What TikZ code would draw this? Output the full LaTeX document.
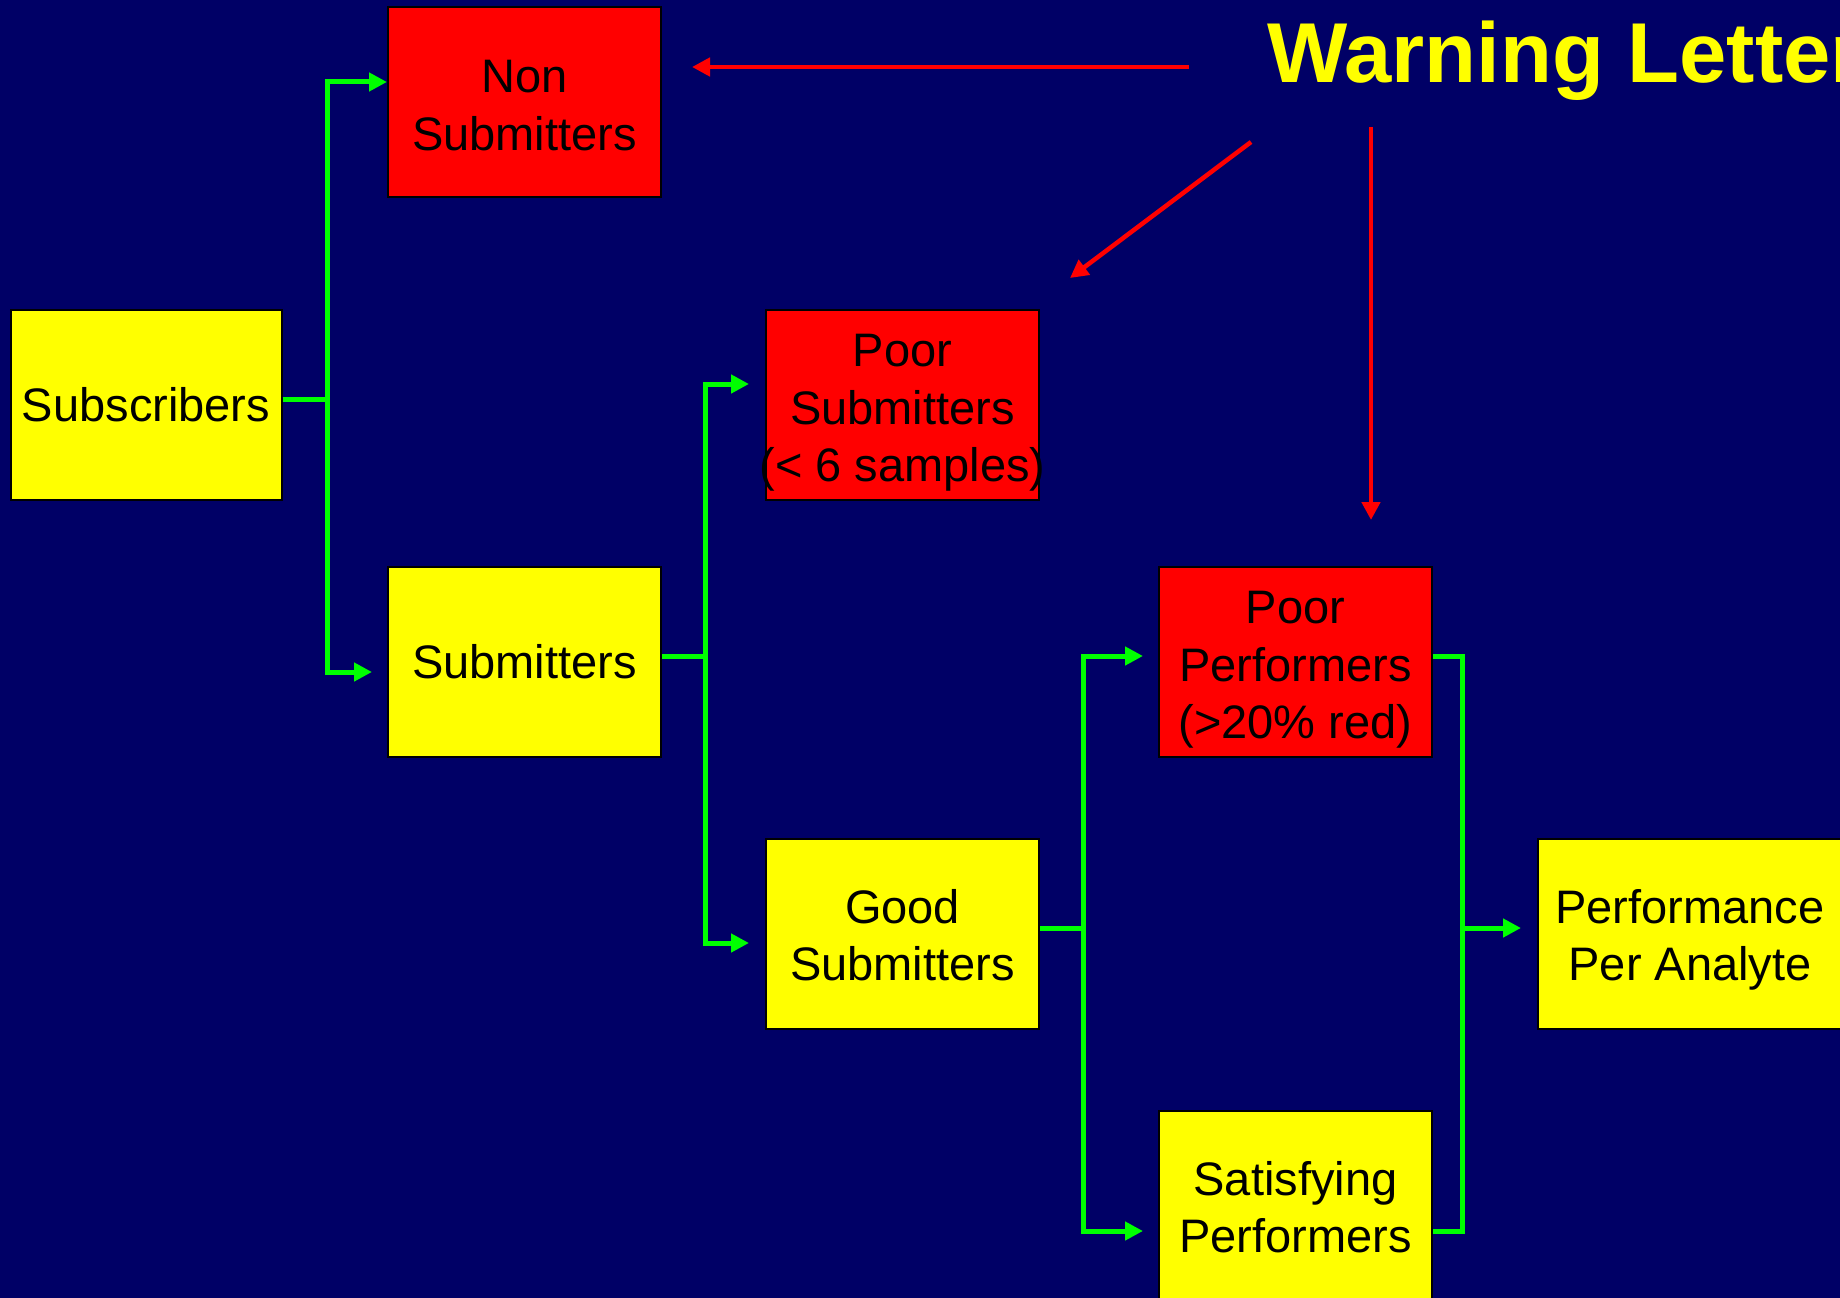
\documentclass[tikz,border=0pt]{standalone}
\usepackage{fontspec}
\setmainfont{Liberation Sans}
\usetikzlibrary{arrows.meta}
\definecolor{navybg}{RGB}{0,0,102}
\definecolor{boxyellow}{RGB}{255,255,0}
\definecolor{boxred}{RGB}{255,0,0}
\definecolor{linkgreen}{RGB}{0,255,0}
\definecolor{warnred}{RGB}{255,0,0}
\newcommand\toppad[1]{\rule{0pt}{#1}}
\tikzset{
  box/.style={draw=black, line width=2pt, minimum width=273pt, minimum height=190pt,
    inner sep=0pt, align=center, font=\fontsize{47}{57.5}\selectfont, text=black},
  ybox/.style={box, fill=boxyellow},
  rbox/.style={box, fill=boxred},
  glink/.style={draw=linkgreen, line width=5pt, line join=miter},
  garrow/.style={glink, -{Triangle[length=18pt,width=18pt]}},
  garrows/.style={glink, {Triangle[length=18pt,width=18pt]}-{Triangle[length=18pt,width=18pt]}},
  rarrow/.style={draw=warnred, line width=4.5pt, -{Triangle[length=18pt,width=18pt]}}
}
\begin{document}
\begin{tikzpicture}[x=1pt,y=-1pt]
\fill[navybg] (0,0) rectangle (1840,1298);
\useasboundingbox (0,0) rectangle (1840,1298);

% boxes
\node[ybox, minimum width=271pt] (sub) at (146,405) {Subscribers};
\node[rbox] (non) at (524.5,102) {\toppad{39pt}Non\\Submitters};
\node[ybox] (subm) at (524.5,662) {Submitters};
\node[rbox] (psub) at (902.5,405) {\toppad{48pt}Poor\\Submitters\\\makebox[0pt]{(< 6 samples)}};
\node[ybox] (good) at (902.5,934) {\toppad{36pt}Good\\Submitters};
\node[rbox] (pperf) at (1295.5,662) {\toppad{48pt}Poor\\Performers\\(>20\% red)};
\node[ybox] (sat) at (1295.5,1206) {\toppad{36pt}Satisfying\\Performers};
\node[ybox, minimum width=304pt] (perf) at (1690,934) {\toppad{46pt}Performance\\Per Analyte};

% title
\node[anchor=base west, inner sep=0pt, text=boxyellow,
  font=\fontsize{85}{100}\selectfont\bfseries] (warn) at (1267,82) {Warning Letter};

% green junctions
\coordinate (j1) at (327,399);
\coordinate (t1a) at (327,82);
\coordinate (t1b) at (327,672);
\coordinate (j2) at (705,656);
\coordinate (t2a) at (705,384);
\coordinate (t2b) at (705,943);
\coordinate (j3) at (1083,928);
\coordinate (t3a) at (1083,656);
\coordinate (t3b) at (1083,1231);
\coordinate (k4a) at (1462,656);
\coordinate (k4b) at (1462,1231);
\coordinate (j4) at (1462,928);

% green connectors
\draw[glink] (sub.east |- j1) -- (j1);
\draw[garrows] ([xshift=-15pt]subm.west |- t1b) -- (t1b) -- (t1a) -- (non.west |- t1a);

\draw[glink] (subm.east |- j2) -- (j2);
\draw[garrows] ([xshift=-16pt]good.west |- t2b) -- (t2b) -- (t2a) -- ([xshift=-16pt]psub.west |- t2a);

\draw[glink] (good.east |- j3) -- (j3);
\draw[garrows] ([xshift=-15pt]sat.west |- t3b) -- (t3b) -- (t3a) -- ([xshift=-15pt]pperf.west |- t3a);

\draw[glink] (pperf.east |- k4a) -- (k4a) -- (k4b) -- (sat.east |- k4b);
\draw[garrow] (j4) -- ([xshift=-16pt]perf.west |- j4);

% red warning arrows
\coordinate (r1s) at (1189,67);
\coordinate (r1e) at (692,67);
\coordinate (r2s) at (1251,142);
\coordinate (r2e) at (1070,278);
\coordinate (r3s) at (1371,127);
\coordinate (r3e) at (1371,520);
\draw[rarrow] (r1s) -- (r1e);
\draw[rarrow] (r2s) -- (r2e);
\draw[rarrow] (r3s) -- (r3e);
\end{tikzpicture}
\end{document}
